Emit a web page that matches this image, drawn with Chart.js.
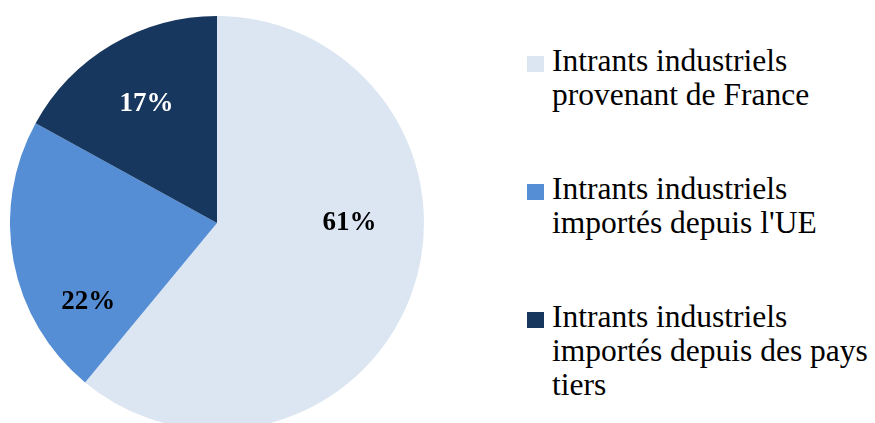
<!DOCTYPE html>
<html>
<head>
<meta charset="utf-8">
<script src="https://cdn.jsdelivr.net/npm/chart.js@4/dist/chart.umd.min.js"></script>
<style>
  html, body { margin: 0; padding: 0; background: #fff; }
  body { width: 875px; height: 423px; overflow: hidden; position: relative; }
  #pie-wrap { position: absolute; left: 10px; top: 16px; width: 414px; height: 414px; }
  #legend { position: absolute; left: 527px; top: 44px; font-family: "Liberation Serif", serif;
            font-size: 31.5px; line-height: 34px; color: #000; }
  .lg-item { position: relative; padding-left: 25px; margin-bottom: 60px; white-space: nowrap; }
  .lg-box { position: absolute; left: 0; top: 12px; width: 17px; height: 16px; }
</style>
</head>
<body>
<div id="pie-wrap"><canvas id="pie"></canvas></div>
<div id="legend"></div>
<script>
/* ================================================
   DATA
================================================ */

const labels = [
  ['Intrants industriels', 'provenant de France'],
  ['Intrants industriels', "importés depuis l'UE"],
  ['Intrants industriels', 'importés depuis des pays', 'tiers'],
];
const values     = [61, 22, 17];
const pctLabels  = ['61%', '22%', '17%'];

/* ================================================
   STYLE
================================================ */

const colors     = ['#DCE6F2', '#558ED5', '#17375E'];
const pctColors  = ['#000', '#000', '#fff'];
/* label placement: angle shift (deg) from slice middle, radius fraction */
const pctPlace   = [{ dA: -19.8, r: 0.64 }, { dA: -20.7, r: 0.73 }, { dA: 0, r: 0.67 }];

/* ================================================
   PERCENT LABELS PLUGIN
================================================ */

const pctPlugin = {
  id: 'pctLabels',
  afterDatasetsDraw(chart) {
    const ctx  = chart.ctx;
    const meta = chart.getDatasetMeta(0);
    ctx.save();
    ctx.font = 'bold 27px "Liberation Serif", serif';
    ctx.textAlign = 'center';
    ctx.textBaseline = 'middle';
    meta.data.forEach((arc, i) => {
      const p   = arc.getProps(['x', 'y', 'startAngle', 'endAngle', 'outerRadius'], true);
      const mid = (p.startAngle + p.endAngle) / 2 + pctPlace[i].dA * Math.PI / 180;
      const rr  = p.outerRadius * pctPlace[i].r;
      ctx.fillStyle = pctColors[i];
      ctx.fillText(pctLabels[i], p.x + Math.cos(mid) * rr, p.y + Math.sin(mid) * rr);
    });
    ctx.restore();
  },
};

/* ================================================
   CHART
================================================ */

const chart = new Chart(document.getElementById('pie').getContext('2d'), {
  type: 'pie',
  data: {
    labels,
    datasets: [{
      data:            values,
      backgroundColor: colors,
      borderWidth:     0,
    }],
  },
  options: {
    responsive:          true,
    maintainAspectRatio: false,
    animation:           false,
    layout:  { padding: 0 },
    plugins: {
      legend:  { display: false },
      tooltip: { enabled: false },
    },
  },
  plugins: [pctPlugin],
});

/* ================================================
   HTML LEGEND (from chart's own label items)
================================================ */

const items = Chart.overrides.pie.plugins.legend.labels.generateLabels(chart);
document.getElementById('legend').innerHTML = items.map(it => `
  <div class="lg-item">
    <span class="lg-box" style="background:${it.fillStyle}"></span>
    ${[].concat(it.text).join('<br>')}
  </div>`).join('');
</script>
</body>
</html>
